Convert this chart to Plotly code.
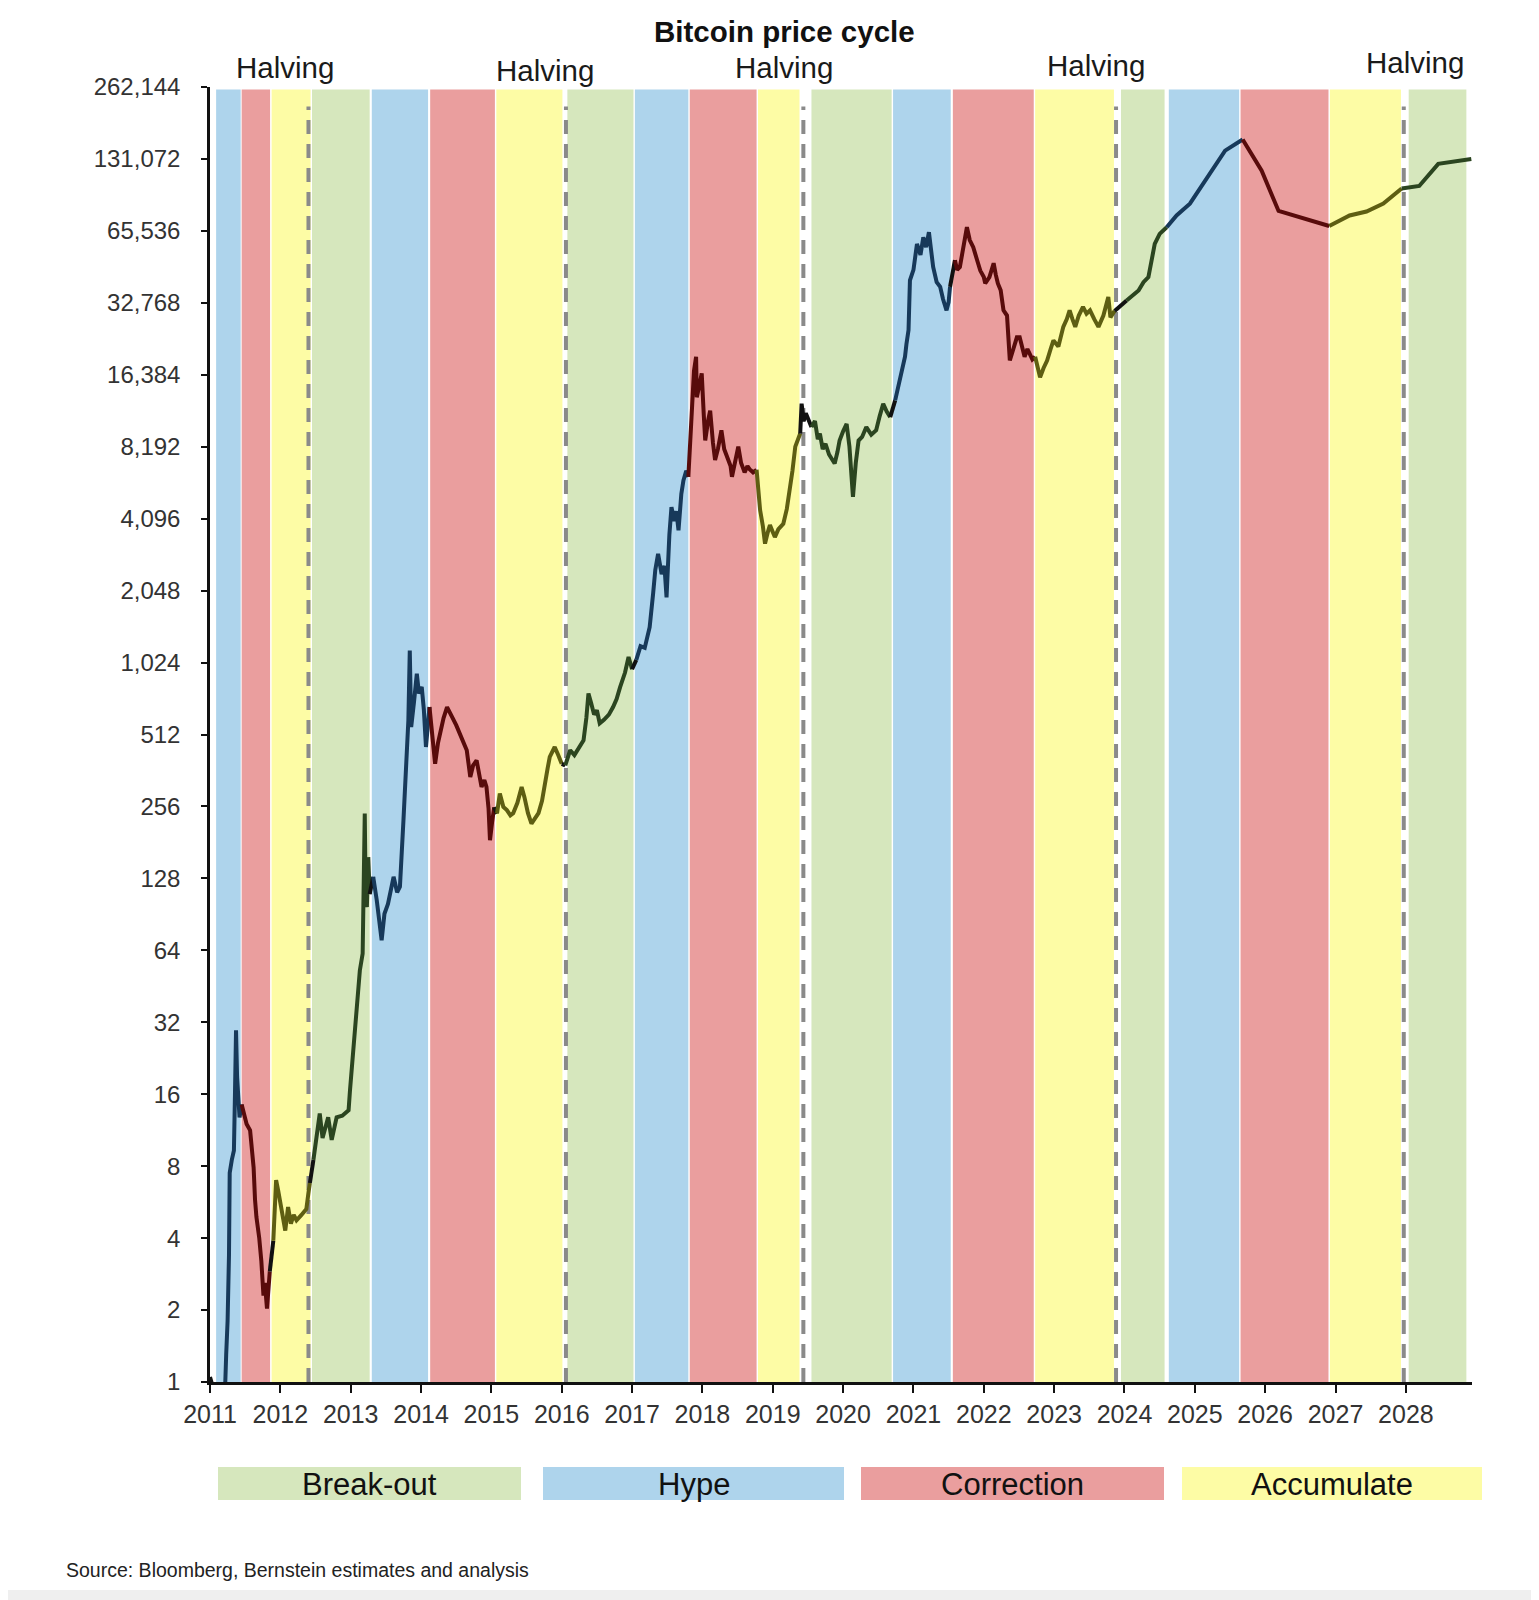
import math
import plotly.graph_objects as go

# ---------------- data ----------------
years_t = [
    2011.00, 2011.02, 2011.04, 2011.10, 2011.18, 2011.215, 2011.23, 2011.25, 2011.27, 2011.28,
    2011.31, 2011.34, 2011.355, 2011.37, 2011.385, 2011.40, 2011.42, 2011.45,
    2011.48, 2011.52, 2011.57, 2011.60, 2011.62, 2011.64, 2011.66, 2011.70, 2011.73, 2011.76,
    2011.78, 2011.81, 2011.83, 2011.85,
    2011.90, 2011.93, 2011.94, 2011.97, 2012.00, 2012.04, 2012.07, 2012.11, 2012.15, 2012.19,
    2012.23, 2012.30, 2012.37, 2012.40, 2012.42,
    2012.47, 2012.51, 2012.56, 2012.60, 2012.64, 2012.68, 2012.73, 2012.80, 2012.88, 2012.97,
    2012.99, 2013.06, 2013.13, 2013.17, 2013.18, 2013.20, 2013.21, 2013.23, 2013.25, 2013.27,
    2013.32, 2013.37, 2013.44, 2013.48, 2013.53, 2013.58, 2013.61, 2013.66, 2013.70, 2013.75,
    2013.80, 2013.82, 2013.84, 2013.86, 2013.90, 2013.94, 2013.97, 2014.01, 2014.04, 2014.07,
    2014.12, 2014.16, 2014.20, 2014.24, 2014.27, 2014.32, 2014.37, 2014.42, 2014.45, 2014.50,
    2014.55, 2014.60, 2014.65, 2014.70, 2014.74, 2014.79, 2014.83, 2014.86, 2014.90, 2014.93,
    2014.96, 2014.98, 2015.01, 2015.04,
    2015.08, 2015.12, 2015.17, 2015.22, 2015.27, 2015.31, 2015.37, 2015.43, 2015.47, 2015.52,
    2015.57, 2015.62, 2015.67, 2015.72, 2015.76, 2015.80, 2015.83, 2015.87, 2015.90, 2015.95,
    2016.00, 2016.05,
    2016.12, 2016.18, 2016.25, 2016.31, 2016.35, 2016.38, 2016.42, 2016.46, 2016.50, 2016.54,
    2016.60, 2016.67, 2016.73, 2016.78, 2016.83, 2016.90, 2016.95, 2017.00,
    2017.06, 2017.12, 2017.18, 2017.25, 2017.30, 2017.33, 2017.37, 2017.42, 2017.46, 2017.49,
    2017.53, 2017.56, 2017.60, 2017.63, 2017.66, 2017.70, 2017.73, 2017.77, 2017.80,
    2017.85, 2017.88, 2017.91, 2017.92, 2017.95, 2017.99, 2018.02, 2018.04, 2018.08, 2018.11,
    2018.15, 2018.18, 2018.22, 2018.27, 2018.31, 2018.35, 2018.40, 2018.42, 2018.46, 2018.51,
    2018.55, 2018.60, 2018.64, 2018.67, 2018.72, 2018.77,
    2018.82, 2018.86, 2018.89, 2018.93, 2018.96, 2019.00, 2019.03, 2019.08, 2019.15, 2019.20,
    2019.24, 2019.28, 2019.32, 2019.36, 2019.39, 2019.41, 2019.44, 2019.47,
    2019.55, 2019.60, 2019.64, 2019.67, 2019.71, 2019.75, 2019.80, 2019.84, 2019.88, 2019.92,
    2019.95, 2020.00, 2020.05, 2020.09, 2020.12, 2020.14, 2020.18, 2020.22, 2020.27, 2020.33,
    2020.40, 2020.47, 2020.52, 2020.57, 2020.62, 2020.67,
    2020.74, 2020.81, 2020.88, 2020.90, 2020.93, 2020.95, 2021.00, 2021.05, 2021.10, 2021.14,
    2021.18, 2021.22, 2021.25, 2021.28, 2021.33, 2021.38, 2021.42, 2021.47, 2021.50, 2021.52,
    2021.59, 2021.62, 2021.66, 2021.70, 2021.76, 2021.80, 2021.85, 2021.90, 2021.95, 2022.00,
    2022.02, 2022.08, 2022.14, 2022.17, 2022.20, 2022.24, 2022.28, 2022.33, 2022.37, 2022.42,
    2022.47, 2022.51, 2022.55, 2022.58, 2022.62, 2022.65, 2022.69, 2022.73,
    2022.80, 2022.85, 2022.90, 2022.95, 2022.99, 2023.06, 2023.10, 2023.13, 2023.18, 2023.22,
    2023.26, 2023.30, 2023.35, 2023.41, 2023.46, 2023.51, 2023.57, 2023.63, 2023.70, 2023.77,
    2023.80, 2023.86,
    2024.03, 2024.20, 2024.27, 2024.34, 2024.43, 2024.50, 2024.60, 2024.74, 2024.93, 2025.14,
    2025.30, 2025.43, 2025.68, 2025.95, 2026.19, 2026.42, 2026.91, 2027.20, 2027.44, 2027.68,
    2027.94, 2028.19, 2028.46, 2028.93,
]

price_usd = [
    1.05, 1.0, 0.9, 0.8, 0.9, 0.95, 1.3, 1.8, 3.4, 7.5,
    8.5, 9.3, 16, 29.6, 18.9, 14.6, 12.8, 14.5,
    13.5, 12.0, 11.3, 9.0, 7.9, 5.8, 4.9, 4.0, 3.2, 2.3,
    2.6, 2.03, 2.6, 2.9,
    3.9, 5.5, 7.0, 6.3, 5.6, 4.8, 4.3, 5.4, 4.6, 5.0,
    4.75, 5.0, 5.3, 6.2, 6.8,
    8.5, 10.3, 13.3, 10.5, 11.5, 12.8, 10.3, 12.8, 13.0, 13.7,
    16.6, 28.8, 52.7, 62, 91, 239, 130, 97, 157, 110,
    130, 104, 70.5, 91, 100, 120, 130, 112, 118, 224,
    425, 587, 1150, 550, 700, 920, 760, 810, 650, 454,
    667, 500, 386, 470, 517, 600, 667, 630, 600, 560,
    517, 480, 440, 340, 380, 399, 340, 309, 330, 309,
    250, 185, 220, 254,
    239, 290, 255, 247, 235, 240, 265, 309, 280, 240,
    217, 230, 240, 270, 309, 370, 413, 440, 454, 420,
    386, 380,
    440, 420, 450, 484, 600, 760, 690, 620, 647, 570,
    590, 620, 667, 720, 808, 930, 1080, 960,
    1050, 1200, 1180, 1440, 2000, 2500, 2920, 2400, 2600, 1920,
    3500, 4580, 4000, 4400, 3660, 5200, 5920, 6500, 6130,
    13200, 17000, 19500, 13200, 14500, 16600, 11000, 8700, 10500, 11600,
    8500, 7200, 8000, 9600, 8000, 7440, 6800, 6130, 7000, 8200,
    7000, 6400, 6800, 6600, 6400, 6560,
    4450, 3800, 3220, 3600, 3850, 3600, 3430, 3700, 3900, 4500,
    5380, 6500, 8200, 8800, 9300, 12400, 10500, 11300,
    9900, 10500, 8800, 9300, 8000, 8430, 7600, 7300, 6970, 7800,
    8700, 9500, 10200, 8200, 6500, 5050, 7000, 8700, 9000, 9900,
    9200, 9600, 11000, 12400, 11500, 10900,
    12800, 15600, 19500, 22000, 25200, 40700, 45000, 57800, 52000, 61600,
    56000, 64700, 55000, 46300, 40000, 38200, 34000, 30500, 33000, 38200,
    49400, 45000, 46300, 55000, 67900, 60000, 56000, 50000, 44700, 42000,
    39500, 42000, 48000, 43000, 39500, 37000, 30500, 29000, 18800, 21000,
    23500, 23500, 21000, 19500, 21000, 20000, 19000, 19500,
    16000, 17500, 18800, 21000, 22800, 21500, 24000, 26000, 28000, 30500,
    28000, 26000, 29000, 31500, 29500, 30500, 28000, 26000, 29000, 34700,
    28500, 30300,
    33500, 36900, 40000, 42000, 57800, 63700, 67900, 76000, 85200, 106000,
    125000, 142000, 158000, 117000, 79400, 76000, 68700, 76000, 79000, 85200,
    98600, 101000, 125000, 131000,
]

phase_names = [
    "Hype", "Correction", "Accumulate", "Break-out",
    "Hype", "Correction", "Accumulate", "Break-out",
    "Hype", "Correction", "Accumulate", "Break-out",
    "Hype", "Correction", "Accumulate", "Break-out",
    "Hype", "Correction", "Accumulate", "Break-out",
]
phase_start = [
    2011.087, 2011.45, 2011.876, 2012.45,
    2013.30, 2014.13, 2015.07, 2016.08,
    2017.04, 2017.82, 2018.79, 2019.55,
    2020.71, 2021.56, 2022.73, 2023.95,
    2024.63, 2025.65, 2026.92, 2028.04,
]
phase_end = [
    2011.436, 2011.854, 2012.43, 2013.27,
    2014.10, 2015.05, 2016.01, 2017.02,
    2017.80, 2018.77, 2019.38, 2020.69,
    2021.53, 2022.71, 2023.85, 2024.57,
    2025.63, 2026.90, 2027.93, 2028.86,
]
halving_dates = [2012.40, 2016.06, 2019.435, 2023.88, 2027.97]

legend_labels = ["Break-out", "Hype", "Correction", "Accumulate"]
year_ticks = list(range(2011, 2029))
price_ticks = [2 ** k for k in range(19)]

# ---------------- styles ----------------
FONT = "Liberation Sans, Arial, sans-serif"
band_fill = {
    "Break-out": "#D6E7BD",
    "Hype": "#AED4EC",
    "Correction": "#EA9E9E",
    "Accumulate": "#FDFCA5",
}
line_col = {
    "Break-out": "#2B4520",
    "Hype": "#17395A",
    "Correction": "#580B0B",
    "Accumulate": "#5E5E12",
}
GAP_COL = "#111111"

OFF = 8                      # page body margin
W, H = 1539 - OFF, 1600 - OFF
# plot-area edges in page pixels
L, R, T, B = 210, 1472, 87, 1382


def px_x(x):
    return (x - L) / (R - L)


def px_y(y):
    return (B - y) / (B - T)


fig = go.Figure()


def phase_of(t):
    for name, s, e in zip(phase_names, phase_start, phase_end):
        if s <= t <= e:
            return name
    return None


seg_cols = []
for i in range(len(years_t) - 1):
    mid = (years_t[i] + years_t[i + 1]) / 2
    ph = phase_of(mid)
    seg_cols.append(line_col[ph] if ph else GAP_COL)

i = 0
while i < len(seg_cols):
    j = i
    while j + 1 < len(seg_cols) and seg_cols[j + 1] == seg_cols[i]:
        j += 1
    fig.add_trace(go.Scatter(
        x=years_t[i:j + 2], y=price_usd[i:j + 2], mode="lines",
        line=dict(color=seg_cols[i], width=4),
        showlegend=False, hoverinfo="skip",
    ))
    i = j + 1

shapes = []
for name, s, e in zip(phase_names, phase_start, phase_end):
    shapes.append(dict(type="rect", xref="x", yref="paper", x0=s, x1=e, y0=0, y1=0.998,
                       fillcolor=band_fill[name], line=dict(width=0), layer="below"))
for h in halving_dates:
    shapes.append(dict(type="line", xref="x", yref="paper", x0=h, x1=h, y0=0, y1=0.985,
                       line=dict(color="#8A8A8A", width=4, dash="14px,10px"), layer="below"))

legend_px = [(218, 521), (543, 844), (861, 1164), (1182, 1482)]
annotations = []
for lab, (x0, x1) in zip(legend_labels, legend_px):
    shapes.append(dict(type="rect", xref="paper", yref="paper",
                       x0=px_x(x0), x1=px_x(x1), y0=px_y(1500), y1=px_y(1467),
                       fillcolor=band_fill[lab], line=dict(width=0)))
    annotations.append(dict(xref="paper", yref="paper", x=px_x((x0 + x1) / 2), y=px_y(1484),
                            text=lab, showarrow=False, xanchor="center", yanchor="middle",
                            font=dict(family=FONT, size=31, color="#111111")))

shapes.append(dict(type="rect", xref="paper", yref="paper", x0=px_x(OFF), x1=px_x(1539),
                   y0=px_y(1600), y1=px_y(1590), fillcolor="#EFEFEF", line=dict(width=0)))

annotations.append(dict(xref="paper", yref="paper", x=px_x(784), y=px_y(31),
                        text="<b>Bitcoin price cycle</b>", showarrow=False,
                        xanchor="center", yanchor="middle",
                        font=dict(family=FONT, size=29.5, color="#111111")))
halving_label_px = [(285, 67), (545, 71), (784, 67), (1096, 65), (1415, 62)]
for (hx, hy) in halving_label_px:
    annotations.append(dict(xref="paper", yref="paper", x=px_x(hx), y=px_y(hy),
                            text="Halving", showarrow=False, xanchor="center", yanchor="middle",
                            font=dict(family=FONT, size=29.5, color="#1A1A1A")))
annotations.append(dict(xref="paper", yref="paper", x=px_x(64), y=px_y(1570),
                        text="Source: Bloomberg, Bernstein estimates and analysis",
                        showarrow=False, xanchor="left", yanchor="middle",
                        font=dict(family=FONT, size=19.5, color="#222222")))

fig.update_layout(
    width=W, height=H,
    margin=dict(l=L - OFF, r=W - (R - OFF), t=T - OFF, b=H - (B - OFF), pad=0),
    paper_bgcolor="white", plot_bgcolor="white",
    shapes=shapes, annotations=annotations,
    showlegend=False,
    xaxis=dict(
        range=[2011, 2028.94], tickmode="array", tickvals=year_ticks,
        ticktext=[str(y) for y in year_ticks],
        showgrid=False, zeroline=False, showline=True, linecolor="#111111", linewidth=2.5,
        ticks="outside", ticklen=8, tickwidth=2, tickcolor="#111111",
        tickfont=dict(family=FONT, size=25, color="#333333"), ticklabelstandoff=0,
    ),
    yaxis=dict(
        type="log", range=[0, math.log10(262144) + 1e-6], tickmode="array",
        tickvals=price_ticks, ticktext=[f"{v:,}" for v in price_ticks],
        showgrid=False, zeroline=False, showline=True, linecolor="#111111", linewidth=2.5,
        ticks="outside", ticklen=6, tickwidth=2, tickcolor="#111111",
        tickfont=dict(family=FONT, size=24, color="#333333"), ticklabelstandoff=16,
    ),
)

fig.write_html("out.html")
